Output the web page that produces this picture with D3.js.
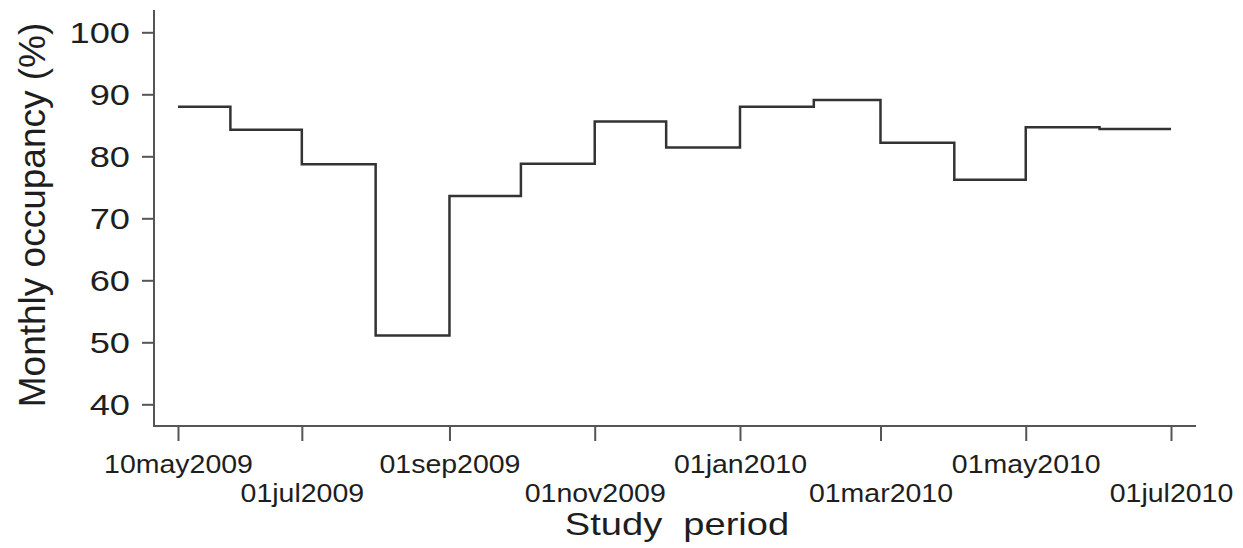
<!DOCTYPE html>
<html>
<head>
<meta charset="utf-8">
<script src="https://cdn.jsdelivr.net/npm/d3@7"></script>
<style>
  body { margin: 0; background: #fff; }
  svg { display: block; font-family: "Liberation Sans", Arial, sans-serif; }
</style>
</head>
<body>
<svg id="chart" width="1243" height="548"></svg>
<script>
const svg = d3.select("#chart");
const parse = d3.timeParse("%Y-%m-%d");

// month start dates of each occupancy step (last one closes the line)
const stepDates = ["2009-05-10", "2009-06-01", "2009-07-01", "2009-08-01", "2009-09-01",
  "2009-10-01", "2009-11-01", "2009-12-01", "2010-01-01", "2010-02-01", "2010-03-01",
  "2010-04-01", "2010-05-01", "2010-06-01", "2010-07-01"];
const occupancy = [88.0, 84.3, 78.7, 51.1, 73.6, 78.8, 85.6, 81.4, 88.0, 89.1, 82.2,
  76.2, 84.7, 84.4, 84.4];

const xTickDates = ["2009-05-10", "2009-07-01", "2009-09-01", "2009-11-01",
  "2010-01-01", "2010-03-01", "2010-05-01", "2010-07-01"];
const xTickLabels = ["10may2009", "01jul2009", "01sep2009", "01nov2009",
  "01jan2010", "01mar2010", "01may2010", "01jul2010"];
const yTicks = [40, 50, 60, 70, 80, 90, 100];

const axisX0 = 154, axisX1 = 1196, axisY0 = 10, axisY1 = 426;
const axisColor = "#555";
const textColor = "#1e1e1e";

const x = d3.scaleTime()
  .domain([parse(xTickDates[0]), parse(xTickDates[xTickDates.length - 1])])
  .range([178, 1171]);
const y = d3.scaleLinear().domain([40, 100]).range([404.3, 32.3]);

const data = stepDates.map((d, i) => ({ date: parse(d), value: occupancy[i] }));

// axis lines
svg.append("line")
  .attr("x1", axisX0).attr("x2", axisX0).attr("y1", axisY0).attr("y2", axisY1 + 1)
  .attr("stroke", axisColor).attr("stroke-width", 2);
svg.append("line")
  .attr("x1", axisX0 - 1).attr("x2", axisX1).attr("y1", axisY1).attr("y2", axisY1)
  .attr("stroke", axisColor).attr("stroke-width", 2);

// y axis (labels are drawn a bit wide, like the source image)
const yStretch = 1.25;
const yAxis = svg.append("g")
  .attr("transform", `translate(${axisX0},0)`)
  .call(d3.axisLeft(y).tickValues(yTicks).tickSize(12));
yAxis.select(".domain").remove();
yAxis.selectAll(".tick line").attr("stroke", axisColor).attr("stroke-width", 2);
yAxis.selectAll(".tick text")
  .attr("fill", textColor)
  .style("font-size", "29px")
  .attr("x", -24 / yStretch)
  .attr("dy", "0.36em")
  .attr("transform", `scale(${yStretch},1)`);

// x axis
const xStretch = 1.14;
const xAxis = svg.append("g")
  .attr("transform", `translate(0,${axisY1})`)
  .call(d3.axisBottom(x)
    .tickValues(xTickDates.map(parse))
    .tickSize(15)
    .tickFormat((d, i) => xTickLabels[i]));
xAxis.select(".domain").remove();
xAxis.selectAll(".tick line").attr("stroke", axisColor).attr("stroke-width", 2);
xAxis.selectAll(".tick text")
  .attr("fill", textColor)
  .style("font-size", "25px")
  .attr("dy", null)
  .attr("y", (d, i) => i % 2 === 0 ? 47 : 76)
  .attr("transform", `scale(${xStretch},1)`);

// occupancy step line
const line = d3.line()
  .x(d => x(d.date))
  .y(d => y(d.value))
  .curve(d3.curveStepAfter);

svg.append("path")
  .datum(data)
  .attr("d", line)
  .attr("fill", "none")
  .attr("stroke", "#333")
  .attr("stroke-width", 2.5);

// titles
svg.append("text")
  .attr("transform", "translate(677,535) scale(1.19,1)")
  .attr("text-anchor", "middle")
  .attr("fill", textColor)
  .style("font-size", "32px")
  .style("white-space", "pre")
  .text("Study  period");

svg.append("text")
  .attr("transform", "translate(45,215) rotate(-90)")
  .attr("text-anchor", "middle")
  .attr("fill", textColor)
  .style("font-size", "37px")
  .text("Monthly occupancy (%)");
</script>
</body>
</html>
